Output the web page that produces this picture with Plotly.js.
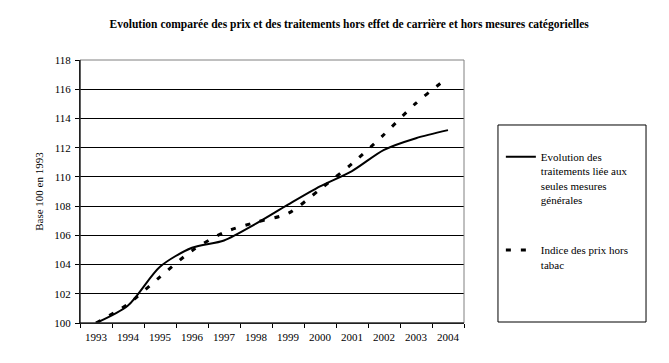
<!DOCTYPE html>
<html>
<head>
<meta charset="utf-8">
<script src="https://cdn.plot.ly/plotly-3.0.1.min.js"></script>
<style>html,body{margin:0;padding:0;background:#fff;}#chart{width:669px;height:363px;}</style>
</head>
<body>
<div id="chart"></div>
<script>
const years = ['1993','1994','1995','1996','1997','1998','1999','2000','2001','2002','2003','2004'];
const salaries = [100, 101.2, 103.85, 105.15, 105.65, 106.8, 108.1, 109.35, 110.4, 111.85, 112.65, 113.2];
const prices = [100, 101.3, 103.15, 104.95, 106.2, 106.9, 107.5, 109.15, 110.9, 112.9, 115.05, 116.8];
const yTicks = [100, 102, 104, 106, 108, 110, 112, 114, 116, 118];
const salaryName = 'Evolution des<br>traitements liée aux<br>seules mesures<br>générales';
const priceName = 'Indice des prix hors<br>tabac';

const font = '"Liberation Serif", "Times New Roman", serif';

const traces = [
  {x: years, y: salaries, name: salaryName, type: 'scatter', mode: 'lines',
   line: {color: '#000', width: 2, shape: 'spline', smoothing: 0.8}, legendgroup: 'a'},
  {x: years, y: prices, name: priceName, type: 'scatter', mode: 'lines',
   line: {color: '#000', width: 3, dash: '5px,10px', shape: 'spline', smoothing: 0.8}, legendgroup: 'b'}
];

const layout = {
  width: 669, height: 363,
  margin: {l: 80, r: 205, t: 60, b: 40},
  paper_bgcolor: '#fff', plot_bgcolor: '#fff',
  font: {family: font, size: 11, color: '#000'},
  title: {text: '<b>Evolution comparée des prix et des traitements hors effet de carrière et hors mesures catégorielles</b>',
          font: {family: font, size: 11.5, color: '#000'}, x: 0.522, xanchor: 'center', y: 0.935, yanchor: 'middle'},
  xaxis: {type: 'category', range: [-0.5, 11.5], tickson: 'boundaries', ticks: 'outside', ticklen: 4, tickcolor: '#000',
          showline: true, linecolor: '#000', linewidth: 1, showgrid: false, zeroline: false, ticklabelstandoff: 4,
          tickfont: {family: font, size: 11, color: '#000'}, fixedrange: true},
  yaxis: {range: [100, 118], tickvals: yTicks, ticks: 'outside', ticklen: 4, tickcolor: '#000',
          showline: true, linecolor: '#000', linewidth: 1, showgrid: true, gridcolor: '#000', gridwidth: 1,
          zeroline: false, ticklabelstandoff: 2, tickfont: {family: font, size: 11, color: '#000'},
          title: {text: 'Base 100 en 1993', font: {family: font, size: 11, color: '#000'}, standoff: 8}},
  showlegend: true,
  legend: {x: 1.096, xanchor: 'left', y: 0.684, yanchor: 'top', bgcolor: 'rgba(0,0,0,0)', borderwidth: 0,
           traceorder: 'grouped', tracegroupgap: 33, valign: 'top',
           font: {family: font, size: 11, color: '#000'}},
  shapes: [
    {type: 'rect', xref: 'paper', yref: 'paper', x0: 0, x1: 1, y0: 0, y1: 1,
     line: {color: '#808080', width: 1}, layer: 'above'},
    {type: 'line', xref: 'paper', yref: 'paper', x0: 0, x1: 0, y0: 0, y1: 1,
     line: {color: '#000', width: 1}, layer: 'above'},
    {type: 'line', xref: 'paper', yref: 'paper', x0: 0, x1: 1, y0: 0, y1: 0,
     line: {color: '#000', width: 1}, layer: 'above'},
    {type: 'rect', xref: 'paper', yref: 'paper', x0: 1.0885, x1: 1.474, y0: 0.0038, y1: 0.7529,
     line: {color: '#000', width: 1}}
  ]
};

Plotly.newPlot('chart', traces, layout, {displayModeBar: false, staticPlot: true});
</script>
</body>
</html>
